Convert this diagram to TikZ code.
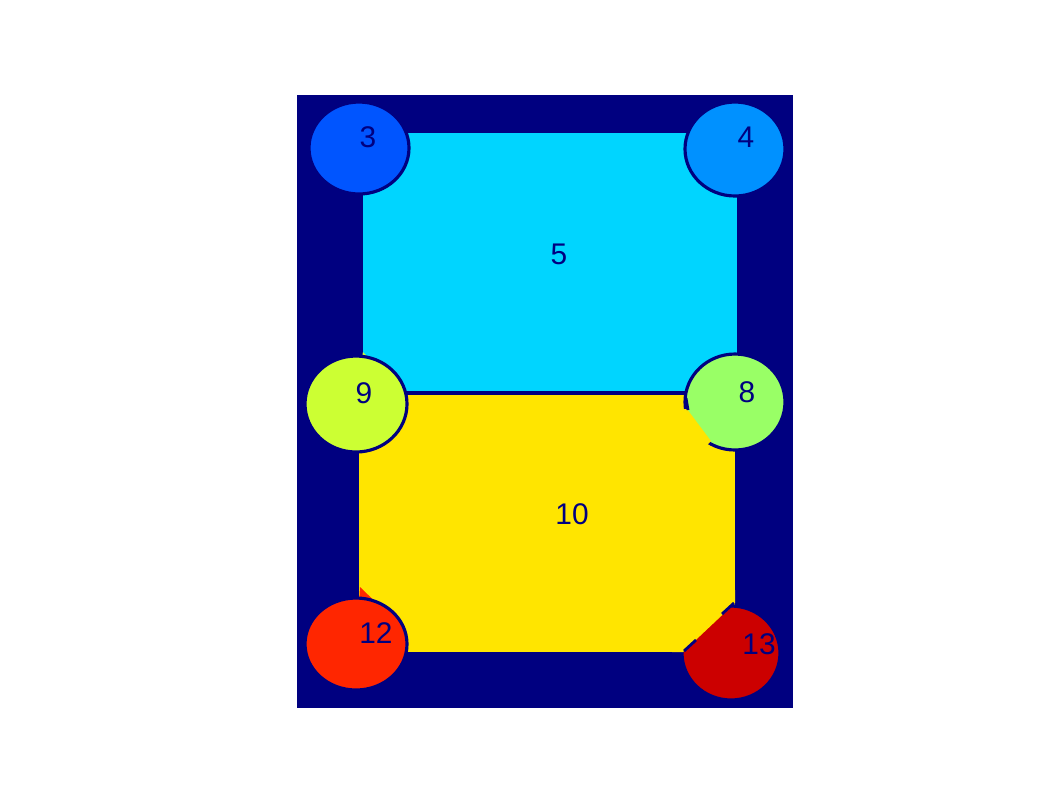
\documentclass[tikz,border=0pt]{standalone}
\usepackage{fontspec}
\setmainfont{Liberation Sans}
\definecolor{bgnavy}{RGB}{0,0,128}
\definecolor{cThree}{RGB}{0,85,255}
\definecolor{cFour}{RGB}{0,145,255}
\definecolor{cFive}{RGB}{0,213,255}
\definecolor{cEight}{RGB}{153,255,102}
\definecolor{cNine}{RGB}{204,255,51}
\definecolor{cTen}{RGB}{255,229,0}
\definecolor{cTwelve}{RGB}{255,38,0}
\definecolor{cThirteen}{RGB}{204,0,0}
\tikzset{
  lbl/.style={text=bgnavy, font=\fontsize{17}{17}\selectfont, inner sep=0pt},
  blob/.style={draw=bgnavy, line width=1.8pt},
  seam/.style={draw=bgnavy, line width=1.6pt}
}
\begin{document}
\begin{tikzpicture}[x=0.02cm,y=-0.02cm]
\useasboundingbox (0,0) rectangle (1062,796);
\fill[white] (0,0) rectangle (1062,796);
% background region
\fill[bgnavy] (297,95) rectangle (793,708);
% region 5 and 10
\fill[cFive] (363,133) rectangle (737,391);
\fill[cTen] (359,395) rectangle (735,652);
% spikes where circles reach along the rectangle edges
\fill[cNine] (358,380) -- (363,352) -- (392,382) -- cycle;
\fill[cTwelve] (358,620) -- (360,587) -- (390,616) -- cycle;
% circles
\filldraw[blob, fill=cThree] (359,148) ellipse [x radius=50, y radius=46];
\filldraw[blob, fill=cFour] (735,149) ellipse [x radius=50, y radius=47];
\filldraw[blob, fill=cNine] (356,404) ellipse [x radius=51, y radius=48];
\filldraw[blob, fill=cEight] (735,402) ellipse [x radius=50, y radius=48];
\filldraw[blob, fill=cTwelve] (356,644) ellipse [x radius=51, y radius=46];
\filldraw[blob, fill=cThirteen] (731,653) ellipse [x radius=49, y radius=47];
% rectangle 10 cuts circles 8 and 13 along straight chords
\fill[cTen] (687,409) -- (711,441) -- (700,452) -- (678,430) -- (678,409) -- cycle;
\fill[cTen] (683,652) -- (735,603) -- (735,590) -- (672,590) -- (672,652) -- cycle;
\draw[seam] (684,651) -- (696,640);
\draw[seam] (722,614) -- (734,603);
\draw[seam] (686,398) -- (688,410);
% labels
\node[lbl] (l3) at (368,137) {3};
\node[lbl] (l4) at (746,137) {4};
\node[lbl] (l5) at (559,254) {5};
\node[lbl] (l9) at (364,393) {9};
\node[lbl] (l8) at (747,392) {8};
\node[lbl] (l10) at (572,514) {10};
\node[lbl] (l12) at (376,633) {12};
\node[lbl] (l13) at (759,644) {13};
\end{tikzpicture}
\end{document}
